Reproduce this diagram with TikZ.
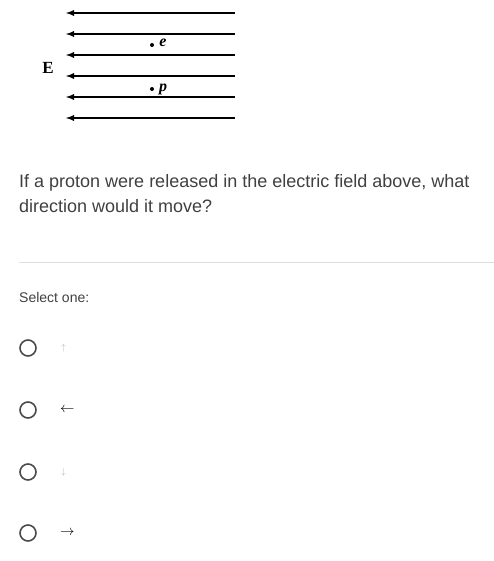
\documentclass[tikz,border=0pt]{standalone}
\usepackage{fontspec}
\setmainfont{Liberation Sans}
\newfontfamily\serifont{Liberation Serif}
\usepackage{tikz}
\definecolor{txtgray}{HTML}{404040}
\definecolor{rulegray}{HTML}{DEDEDE}
\definecolor{optgray}{HTML}{4A4A4A}

\begin{document}
\begin{tikzpicture}[x=1pt,y=-1pt,>=latex,
    field/.style={<-,line width=1.8pt},
    radio/.style={draw=optgray,line width=1.6pt,circle,minimum size=16pt,inner sep=0pt},
    answer/.style={anchor=west,inner sep=0pt,font=\fontsize{14}{14}\selectfont}]
  \useasboundingbox (0,0) rectangle (494,561);
  % field lines
  \foreach \y [count=\i] in {13,34,55,76,97,118} {
    \coordinate (l\i) at (66,\y);
    \coordinate (r\i) at (235,\y);
    \draw[field] (l\i) -- (r\i);
  }
  \node[font=\serifont\bfseries\fontsize{17}{17}\selectfont] (E) at (48,68) {E};
  \fill (152,45) circle (2pt);
  \node[font=\serifont\itshape\bfseries\fontsize{16}{16}\selectfont] (e) at (163,43) {e};
  \fill (152,89) circle (2pt);
  \node[font=\serifont\itshape\bfseries\fontsize{16}{16}\selectfont] (p) at (163,89) {p};
  % question
  \node[anchor=base west,inner sep=0pt,align=left,text=txtgray,
        font=\fontsize{18}{24.5}\selectfont] (q) at (19,212)
    {If a proton were released in the electric field above, what\\direction would it move?};
  \draw[rulegray,line width=0.8pt] (19,262) -- (494,262);
  \node[anchor=west,inner sep=0pt,text=txtgray,font=\fontsize{14}{15}\selectfont] (sel) at (19,297) {Select one:};
  % options
  \node[radio] (o1) at (28,348) {};
  \node[radio] (o2) at (28,410) {};
  \node[radio] (o3) at (28,472) {};
  \node[radio] (o4) at (28,533) {};
  \node[answer,text=gray!60,font=\fontsize{9}{10}\selectfont] (a1) at (61,348) {$\uparrow$};
  \node[answer] (a2) at (60,410) {$\leftarrow$};
  \node[answer,text=gray!60,font=\fontsize{9}{10}\selectfont] (a3) at (61,472) {$\downarrow$};
  \node[answer] (a4) at (60,533) {$\rightarrow$};
\end{tikzpicture}
\end{document}
